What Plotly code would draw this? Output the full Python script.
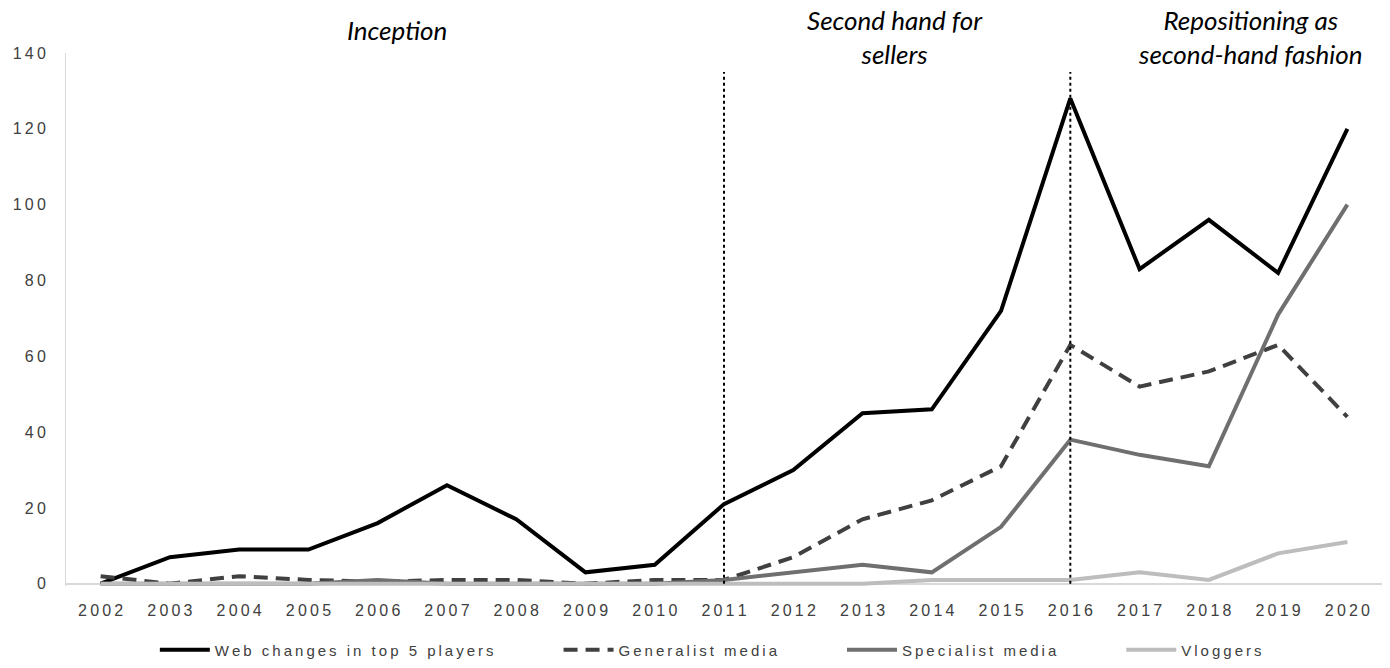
import plotly.graph_objects as go

years = list(range(2002, 2021))
web_changes = [0, 7, 9, 9, 16, 26, 17, 3, 5, 21, 30, 45, 46, 72, 128, 83, 96, 82, 120]
generalist = [2, 0, 2, 1, 0.5, 1, 1, 0, 1, 1, 7, 17, 22, 31, 63, 52, 56, 63, 44]
specialist = [0, 0, 0, 0, 1, 0, 0, 0, 0, 1, 3, 5, 3, 15, 38, 34, 31, 71, 100]
vloggers = [0, 0, 0, 0, 0, 0, 0, 0, 0, 0, 0, 0, 1, 1, 1, 3, 1, 8, 11]

series_names = ["Web changes in top 5 players", "Generalist media", "Specialist media", "Vloggers"]
phase_labels = ["Inception", "Second hand for<br>sellers", "Repositioning as<br>second-hand fashion"]
phase_breaks = [2011, 2016]
y_ticks = [0, 20, 40, 60, 80, 100, 120, 140]

SP = "\u2009"
def spaced(s):
    return SP.join(list(s))

TICKFONT = "Liberation Sans, Arial"
PAD = "\u2003" * 4

fig = go.Figure()
styles = [
    dict(color="#000000", width=4, dash="solid"),
    dict(color="#404040", width=4, dash="14px,8px"),
    dict(color="#6f6f6f", width=4, dash="solid"),
    dict(color="#bdbdbd", width=4, dash="solid"),
]
all_vals = [web_changes, generalist, specialist, vloggers]
for i, (name, vals, st) in enumerate(zip(series_names, all_vals, styles)):
    label = spaced(name) + (PAD if i < len(series_names) - 1 else "")
    fig.add_trace(go.Scatter(x=years, y=vals, mode="lines", name=label, line=st,
                             hoverinfo="skip"))

for yr in phase_breaks:
    fig.add_shape(type="line", xref="x", yref="y", x0=yr, x1=yr, y0=0, y1=135,
                  line=dict(color="#000000", width=2, dash="dot"))

ann_x = [0.2515, 0.63, 0.9]
ann_y = [1.043, 1.03, 1.03]
for t, ax, ay in zip(phase_labels, ann_x, ann_y):
    fig.add_annotation(text="<i>" + t + "</i>", x=ax, y=ay, xref="paper", yref="paper",
                       showarrow=False, xanchor="center", yanchor="middle",
                       font=dict(family="Lato", size=26, color="#000000"))

fig.update_layout(
    width=1390, height=668,
    margin=dict(l=66, r=8, t=53, b=82, autoexpand=False),
    plot_bgcolor="white", paper_bgcolor="white",
    showlegend=True,
    legend=dict(orientation="h", x=0.49, xanchor="center", y=-0.12, yanchor="middle",
                font=dict(family=TICKFONT, size=15, color="#404040"),
                itemwidth=50),
    xaxis=dict(range=[2001.5, 2020.5], tickvals=years, ticktext=[spaced(str(y)) for y in years],
               showgrid=False, zeroline=False, showline=False, ticks="",
               tickfont=dict(family=TICKFONT, size=16, color="#404040"),
               ticklabelstandoff=13, automargin=False),
    yaxis=dict(range=[-0.6, 140], tickvals=y_ticks, ticktext=[spaced(str(v)) for v in y_ticks],
               showgrid=False, zeroline=True, zerolinecolor="#d9d9d9", zerolinewidth=2,
               showline=True, linecolor="#d9d9d9", linewidth=1, ticks="",
               tickfont=dict(family=TICKFONT, size=16, color="#404040"),
               ticklabelstandoff=16, automargin=False),
)

fig.write_html("out.html", config={"displayModeBar": False},
               post_script="document.body.style.margin='0px';")
